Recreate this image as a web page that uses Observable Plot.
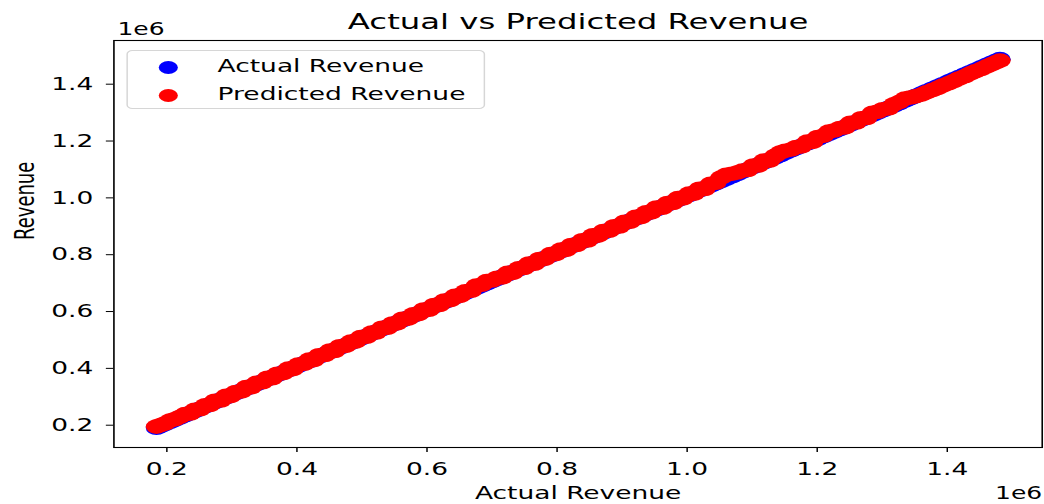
<!DOCTYPE html>
<html><head><meta charset="utf-8">
<script src="https://cdn.jsdelivr.net/npm/d3@7"></script>
<script src="https://cdn.jsdelivr.net/npm/@observablehq/plot@0.6"></script>
<style>
html,body{margin:0;padding:0;background:#fff;overflow:hidden;}
#wrap{position:relative;width:710px;height:504px;transform:scaleX(1.47);transform-origin:0 0;font-family:"DejaVu Sans",sans-serif;}
#legend{position:absolute;left:86px;top:50px;width:244px;height:59px;box-sizing:border-box;border:1px solid #d6d6d6;border-radius:4px;background:rgba(255,255,255,0.85);font-size:18px;color:#000;}
#legend .row{position:absolute;left:0;height:20px;line-height:20px;white-space:nowrap;}
#legend .sw{position:absolute;left:21px;top:3px;width:13px;height:13px;border-radius:50%;}
#legend .lb{position:absolute;left:61px;top:-2px;}
</style></head><body>
<div id="wrap"><div id="legend"></div></div>
<script>
// Actual revenue (thousands)
const actualK = [184, 190, 197, 205, 212, 220, 228, 236, 243, 251, 259, 266, 274, 283, 291, 298, 306, 315, 322, 330, 338, 347, 355, 362, 370, 379, 387, 394, 402, 411, 419, 426, 434, 443, 451, 458, 466, 475, 483, 490, 498, 507, 515, 522, 531, 539, 547, 554, 562, 571, 579, 587, 595, 603, 611, 619, 627, 636, 643, 651, 659, 668, 676, 684, 692, 700, 708, 716, 724, 732, 741, 749, 757, 765, 773, 781, 790, 798, 806, 814, 822, 830, 839, 847, 855, 863, 871, 880, 888, 896, 904, 912, 921, 929, 937, 945, 953, 962, 970, 978, 986, 994, 1003, 1011, 1019, 1027, 1036, 1044, 1052, 1060, 1069, 1077, 1085, 1093, 1102, 1110, 1118, 1127, 1135, 1143, 1151, 1160, 1168, 1176, 1185, 1193, 1201, 1210, 1218, 1226, 1235, 1243, 1251, 1260, 1268, 1276, 1285, 1293, 1301, 1310, 1318, 1326, 1335, 1343, 1351, 1360, 1368, 1377, 1385, 1393, 1402, 1410, 1418, 1427, 1435, 1443, 1452, 1460, 1467, 1474, 1481];
// Predicted revenue (thousands)
const predictedK = [188, 193, 199, 209, 214, 222, 232, 234, 247, 249, 263, 264, 279, 280, 296, 295, 310, 312, 327, 327, 342, 344, 360, 358, 374, 376, 392, 390, 406, 409, 424, 422, 439, 440, 456, 454, 471, 472, 487, 487, 503, 504, 519, 519, 536, 536, 551, 551, 567, 568, 583, 584, 600, 599, 616, 616, 632, 633, 648, 648, 664, 666, 684, 687, 700, 702, 712, 713, 729, 729, 745, 746, 762, 761, 778, 778, 795, 795, 811, 810, 827, 827, 844, 843, 861, 860, 876, 877, 893, 892, 909, 909, 926, 925, 942, 942, 959, 958, 975, 975, 992, 991, 1008, 1008, 1025, 1024, 1042, 1046, 1064, 1074, 1078, 1082, 1089, 1091, 1107, 1107, 1124, 1124, 1141, 1152, 1159, 1163, 1172, 1174, 1191, 1190, 1207, 1212, 1226, 1230, 1239, 1241, 1257, 1258, 1273, 1274, 1292, 1296, 1305, 1308, 1322, 1330, 1342, 1346, 1350, 1356, 1364, 1372, 1379, 1388, 1396, 1404, 1413, 1421, 1430, 1438, 1446, 1455, 1462, 1469, 1476];
const tickValues = [200000, 400000, 600000, 800000, 1000000, 1200000, 1400000];
const tickLabels = ["0.2", "0.4", "0.6", "0.8", "1.0", "1.2", "1.4"];
const seriesNames = ["Actual Revenue", "Predicted Revenue"];
const seriesColors = ["blue", "red"];

const actualPts = actualK.map(a => ({x: a * 1000, y: a * 1000}));
const predictedPts = actualK.map((a, i) => ({x: a * 1000, y: predictedK[i] * 1000}));
const fmt = d => tickLabels[tickValues.indexOf(d)];

const chart = Plot.plot({
  width: 710, height: 504,
  marginTop: 40, marginBottom: 57, marginLeft: 77, marginRight: 1.5,
  style: {fontFamily: "DejaVu Sans, sans-serif", fontSize: "18px", color: "black", background: "white"},
  x: {domain: [118600, 1546000]},
  y: {domain: [114500, 1546700]},
  marks: [
    Plot.dot(actualPts, {x: "x", y: "y", r: 7.3, fill: seriesColors[0]}),
    Plot.dot(predictedPts, {x: "x", y: "y", r: 7.3, fill: seriesColors[1]}),
    Plot.frame({stroke: "black", strokeWidth: 1.1}),
    Plot.axisX({ticks: tickValues, tickFormat: fmt, tickSize: 5, tickPadding: 10, label: null, fontSize: 18}),
    Plot.axisY({ticks: tickValues, tickFormat: fmt, tickSize: 5, tickPadding: 9, label: null, fontSize: 18, dy: 2}),
    Plot.text(["Actual vs Predicted Revenue"], {text: d => d, frameAnchor: "top", lineAnchor: "bottom", dy: -11.7, fontSize: 22}),
    Plot.text(["1e6"], {text: d => d, frameAnchor: "top-left", textAnchor: "start", lineAnchor: "bottom", dx: 2.4, dy: -6, fontSize: 17}),
    Plot.text(["Actual Revenue"], {text: d => d, frameAnchor: "bottom", lineAnchor: "bottom", dy: 51, fontSize: 18}),
    Plot.text(["1e6"], {text: d => d, frameAnchor: "bottom-right", textAnchor: "end", lineAnchor: "bottom", dy: 51, fontSize: 17}),
    Plot.text(["Revenue"], {text: d => d, frameAnchor: "left", rotate: -90, lineAnchor: "bottom", dx: -54.6, dy: -4, fontSize: 18})
  ]
});
document.getElementById("wrap").prepend(chart);

const legend = document.getElementById("legend");
seriesNames.forEach((name, i) => {
  const row = document.createElement("div");
  row.className = "row";
  row.style.top = (7 + i * 28) + "px";
  row.innerHTML = `<span class="sw" style="background:${seriesColors[i]}"></span><span class="lb">${name}</span>`;
  legend.appendChild(row);
});
</script>
</body></html>
